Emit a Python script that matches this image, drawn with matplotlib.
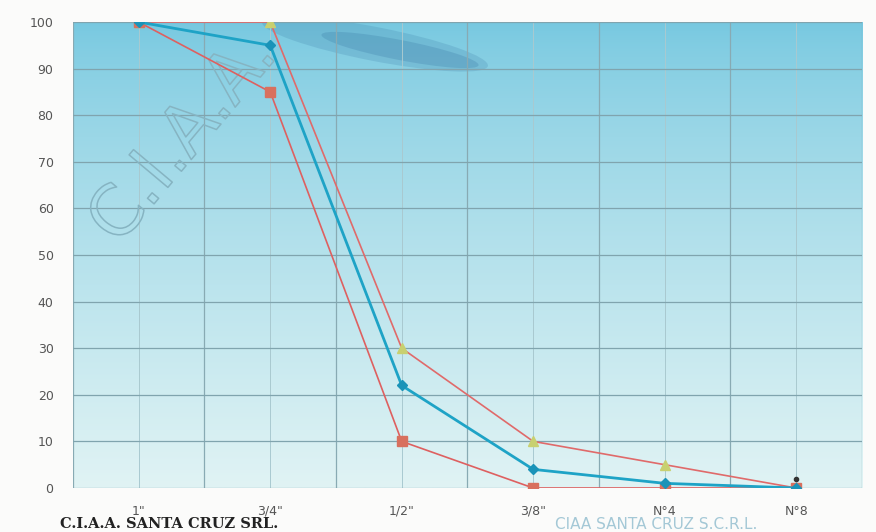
import numpy as np
import matplotlib
matplotlib.use("Agg")
import matplotlib.pyplot as plt
import matplotlib.patheffects as pe
from matplotlib.patches import Ellipse
from matplotlib.transforms import IdentityTransform

# tamices y porcentaje que pasa
sieves = ['1"', '3/4"', '1/2"', '3/8"', 'N°4', 'N°8']
upper_limit = [100, 100, 30, 10, 5, 0]
lower_limit = [100, 85, 10, 0, 0, 0]
sample = [100, 95, 22, 4, 1, 0]
y_ticks = [0, 10, 20, 30, 40, 50, 60, 70, 80, 90, 100]

fig = plt.figure(figsize=(8.76, 5.32), dpi=100)
fig.patch.set_facecolor("#fbfbfa")
axe = fig.add_axes([0.0833, 0.0827, 0.9007, 0.8759])

x = np.arange(len(sieves))

# fondo degradado tipo escaneo
grad = np.linspace(0, 1, 256).reshape(-1, 1)
top = np.array([118, 200, 224]) / 255
bottom = np.array([224, 243, 244]) / 255
img = top + (bottom - top) * grad[:, :, None] ** 0.75
img = np.repeat(img, 2, axis=1)
axe.imshow(img, extent=[-0.5, len(sieves) - 0.5, 0, 100], origin="upper",
           aspect="auto", zorder=0)
axe.set_xlim(-0.5, len(sieves) - 0.5)
axe.set_ylim(0, 100)

# mancha oscura superior (en pixeles)
for cx, cy, w, h, a in [(375, 488, 230, 34, 0.18), (400, 482, 160, 20, 0.22)]:
    blob = Ellipse((cx, cy), w, h, angle=-11, color="#2e6d9c", alpha=a, lw=0,
                   transform=IdentityTransform(), zorder=0.5)
    axe.add_patch(blob)
    blob.set_clip_path(axe.patch)

# grilla
for v in np.arange(-0.5, len(sieves), 1.0):
    axe.axvline(v, color="#88aab3", lw=0.9, zorder=1)
for v in x:
    axe.axvline(v, color="#a9c9d0", lw=0.7, zorder=1)
for t in y_ticks:
    axe.axhline(t, color="#80a4ae", lw=0.9, zorder=1)

axe.plot(x, upper_limit, color="#e06a6a", lw=1.2, marker="^", ms=7,
         mfc="#c8d070", mec="#c8d070", zorder=3)
axe.plot(x, lower_limit, color="#de6060", lw=1.2, marker="s", ms=7,
         mfc="#d8705e", mec="#d8705e", zorder=3)
axe.plot(x, sample, color="#1ea3c6", lw=2.0, marker="D", ms=5,
         mfc="#1a93b8", mec="#1a93b8", zorder=4)
axe.plot([5], [2], marker="o", ms=3, color="#333333", zorder=5)

axe.set_xticks(x)
axe.set_xticklabels(sieves, fontsize=9, color="#555555")
axe.set_yticks(y_ticks)
axe.set_yticklabels([str(t) for t in y_ticks], fontsize=9, color="#555555")
axe.tick_params(axis="both", length=0)
axe.tick_params(axis="x", pad=12)
axe.tick_params(axis="y", pad=14)
for s in axe.spines.values():
    s.set_visible(False)

# marca de agua
axe.text(0.34, 75, "C.I.A.A.", fontsize=50, rotation=50, color="none",
         ha="center", va="center", family="DejaVu Sans",
         path_effects=[pe.withStroke(linewidth=1.1, foreground="#86b4c2")], zorder=2)

fig.text(0.069, 0.008, "C.I.A.A. SANTA CRUZ SRL.", fontsize=10.5, weight="bold",
         family="DejaVu Serif", color="#222222")
fig.text(0.634, 0.006, "CIAA SANTA CRUZ S.C.R.L.", fontsize=11,
         color="#a4c8d6")

fig.savefig("out.png", dpi=100, facecolor=fig.get_facecolor())
